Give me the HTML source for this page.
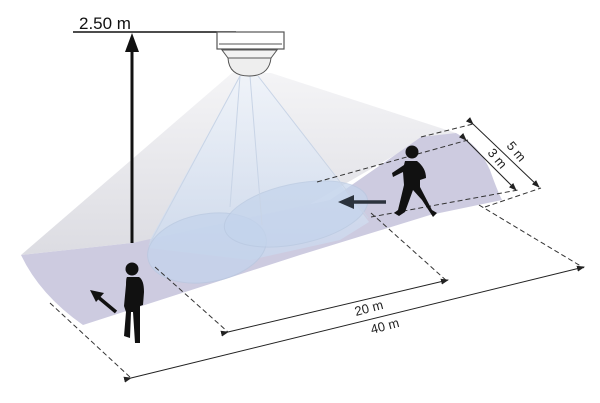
<!DOCTYPE html>
<html><head><meta charset="utf-8"><style>
html,body{margin:0;padding:0;background:#fff;}
svg{display:block;}
text{font-family:"Liberation Sans",sans-serif;}
</style></head><body>
<svg width="600" height="403" viewBox="0 0 600 403" xmlns="http://www.w3.org/2000/svg">
<defs>
<linearGradient id="cone" x1="0" y1="0" x2="0" y2="1">
<stop offset="0" stop-color="#f4f4f6"/><stop offset="1" stop-color="#dcdce2"/>
</linearGradient>
<linearGradient id="blue" x1="0" y1="0" x2="0" y2="1">
<stop offset="0" stop-color="#eef3fa"/><stop offset="1" stop-color="#c9d8ee"/>
</linearGradient>
<marker id="ah" markerWidth="8" markerHeight="6" refX="7" refY="3" orient="auto"><path d="M0,0 L8,3 L0,6 z" fill="#222"/></marker>
</defs>
<polygon points="232,73 271,73 456,133 421,140 300,210 132,243 21,255" fill="url(#cone)"/>
<path d="M21,255 L132,243 L330,200 L421,137 L456,133 Q479,145 490,170 Q497,190 502,200 L430,215 L300,255 L83,325 Q40,295 21,255 Z" fill="#cdcbe0"/>
<polygon points="240,75 258,75 369,222 340,240 250,260 149,248 150,240" fill="url(#blue)" opacity="0.75"/>
<ellipse cx="207" cy="248" rx="60" ry="34" transform="rotate(-10 207 248)" fill="#c4d4ec" stroke="#b8c8e0" opacity="0.75"/>
<ellipse cx="296" cy="214" rx="73" ry="30" transform="rotate(-12 296 214)" fill="#c4d4ec" stroke="#b8c8e0" opacity="0.7"/>
<g stroke="#c8d4e6" stroke-width="1" fill="none">
<line x1="240" y1="76" x2="230" y2="207"/><line x1="250" y1="76" x2="262" y2="225"/>
<line x1="240" y1="76" x2="149" y2="245"/><line x1="258" y1="76" x2="368" y2="218"/>
</g>
<line x1="73" y1="32" x2="236" y2="32" stroke="#111" stroke-width="1.5"/>
<rect x="217" y="32" width="67" height="17" fill="#fff" stroke="#555" stroke-width="1.2"/>
<line x1="219" y1="44" x2="282" y2="44" stroke="#555"/>
<path d="M222,50 L277,50 L271,58 L228,58 Z" fill="#f2f2f2" stroke="#555"/>
<path d="M228,58 Q229,76 249,76 Q269,76 271,58 Z" fill="#eeeeee" stroke="#555"/>
<line x1="132" y1="50" x2="132" y2="243" stroke="#111" stroke-width="3"/>
<polygon points="132,33 125,52 139,52" fill="#111"/>
<text x="79" y="29" font-size="17" fill="#111">2.50 m</text>
<g stroke="#333" stroke-width="1" stroke-dasharray="5,3" fill="none">
<line x1="50" y1="303" x2="131" y2="378"/>
<line x1="155" y1="267" x2="228" y2="332"/>
<line x1="371" y1="213" x2="448" y2="282"/>
<line x1="479" y1="205" x2="584" y2="268"/>
<line x1="421" y1="137" x2="473" y2="124"/>
<line x1="485" y1="207" x2="541" y2="188"/>
<line x1="317" y1="182" x2="468" y2="140"/>
<line x1="371" y1="217" x2="518" y2="190"/>
</g>
<g stroke="#222" stroke-width="1" fill="none">
<line x1="131" y1="378" x2="584" y2="267" marker-end="url(#ah)" marker-start="url(#ah)"/>
<line x1="228" y1="332" x2="448" y2="280" marker-end="url(#ah)" marker-start="url(#ah)"/>
<line x1="473" y1="124" x2="539" y2="187" marker-end="url(#ah)" marker-start="url(#ah)"/>
<line x1="466" y1="140" x2="516" y2="190" marker-end="url(#ah)" marker-start="url(#ah)"/>
</g>
<text x="0" y="0" font-size="13" fill="#222" transform="translate(356,316) rotate(-15)">20 m</text>
<text x="0" y="0" font-size="13" fill="#222" transform="translate(372,334) rotate(-15)">40 m</text>
<text x="0" y="0" font-size="13" fill="#222" transform="translate(506,146) rotate(50)">5 m</text>
<text x="0" y="0" font-size="13" fill="#222" transform="translate(487,153) rotate(50)">3 m</text>
<g fill="#111">
<circle cx="132" cy="269" r="6.5"/>
<path d="M127,277 L139,277 Q144,280 144,292 L143,305 L140,306 L140,343 L135,343 L133,312 L131,312 L130,338 L124,336 L126,312 L124,306 L126,285 Q126,278 127,277 Z"/>
</g>
<line x1="116" y1="312" x2="98" y2="297" stroke="#111" stroke-width="3.5"/>
<polygon points="90,290 104,293 96,302" fill="#111"/>
<g fill="#111">
<circle cx="412" cy="152" r="6.5"/>
<path d="M405,161 L417,161 Q426,168 426,178 L420,180 L420,187 L432,210 L437,213 L433,217 L422,200 L413,190 L405,212 L399,216 L394,213 L398,210 L404,185 L403,172 L393,177 L392,173 L404,165 Z"/>
</g>
<line x1="386" y1="202" x2="352" y2="202" stroke="#2c333d" stroke-width="3.5"/>
<polygon points="338,202 354,195 354,209" fill="#2c333d"/>
</svg>
</body></html>
